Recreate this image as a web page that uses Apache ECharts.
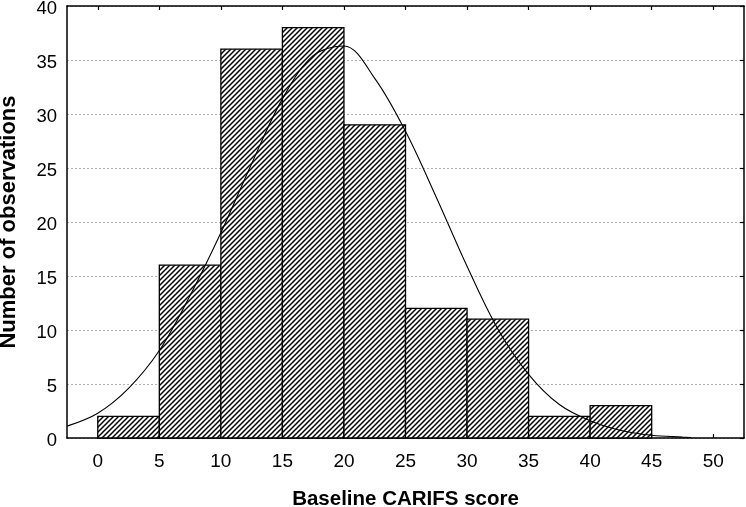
<!DOCTYPE html>
<html>
<head>
<meta charset="utf-8">
<script src="https://cdn.jsdelivr.net/npm/echarts@6/dist/echarts.min.js"></script>
<style>
html,body{margin:0;padding:0;background:#fff;}
#chart{width:746px;height:507px;}
</style>
</head>
<body>
<div id="chart"></div>
<script>
// ---- data ----
var binStarts = [0, 5, 10, 15, 20, 25, 30, 35, 40];
var binEnds   = [5, 10, 15, 20, 25, 30, 35, 40, 45];
var binCounts = [2, 16, 36, 38, 29, 12, 11, 2, 3];

var curveX = [-2.5, 0, 2.5, 5, 7.5, 10, 12.5, 15, 17.5, 20, 22.5, 25, 27.5, 30, 32.5, 35, 37.5, 40, 42.5, 45, 47.5, 48.2];
var curveY = [1.1, 2.3, 4.6, 8.1, 13.2, 19.0, 25.4, 31.4, 35.4, 36.3, 33.3, 28.4, 22.3, 15.9, 10.1, 5.9, 3.1, 1.6, 0.7, 0.25, 0.08, 0.04];

var xTickLabels = [0, 5, 10, 15, 20, 25, 30, 35, 40, 45, 50];
var yTickLabels = [0, 5, 10, 15, 20, 25, 30, 35, 40];

var xTitle = 'Baseline CARIFS score';
var yTitle = 'Number of observations';

// ---- hatch pattern ----
var tile = document.createElement('canvas');
tile.width = 5; tile.height = 5;
var c = tile.getContext('2d');
c.fillStyle = '#fff'; c.fillRect(0, 0, 5, 5);
c.strokeStyle = '#000'; c.lineWidth = 1.5;
c.beginPath();
c.moveTo(-1, 1); c.lineTo(1, -1);
c.moveTo(0, 5); c.lineTo(5, 0);
c.moveTo(4, 6); c.lineTo(6, 4);
c.stroke();
var hatch = { image: tile, repeat: 'repeat' };

var histData = binStarts.map(function (s, i) { return [s, binEnds[i], binCounts[i]]; });
var curveData = curveX.map(function (x, i) { return [x, curveY[i]]; });

var chart = echarts.init(document.getElementById('chart'), null, { renderer: 'canvas' });
var font = 'Liberation Sans, Arial, Helvetica, sans-serif';

var option = {
  animation: false,
  backgroundColor: '#fff',
  grid: { left: 67, top: 6, right: 2, bottom: 69, containLabel: false, outerBoundsMode: 'none' },
  xAxis: [{
    type: 'value', min: -2.5, max: 52.5, position: 'bottom',
    name: xTitle, nameLocation: 'middle', nameGap: 51,
    nameTextStyle: { fontFamily: font, fontSize: 20.5, fontWeight: 'bold', color: '#000' },
    axisLine: { show: true, onZero: false, lineStyle: { color: '#000', width: 1.5 } },
    axisTick: { show: true, inside: true, length: 4, customValues: xTickLabels, lineStyle: { color: '#000', width: 1.2 } },
    axisLabel: { show: true, customValues: xTickLabels, margin: 14, fontFamily: font, fontSize: 19, color: '#000' },
    splitLine: { show: false }
  }, {
    type: 'value', min: -2.5, max: 52.5, position: 'top',
    axisLine: { show: true, onZero: false, lineStyle: { color: '#000', width: 1.5 } },
    axisTick: { show: true, inside: true, length: 4, customValues: xTickLabels, lineStyle: { color: '#000', width: 1.2 } },
    axisLabel: { show: false },
    splitLine: { show: false }
  }],
  yAxis: [{
    type: 'value', min: 0, max: 40, interval: 5, position: 'left',
    name: yTitle, nameLocation: 'middle', nameGap: 47, nameRotate: 90,
    nameTextStyle: { fontFamily: font, fontSize: 22, fontWeight: 'bold', color: '#000' },
    axisLine: { show: true, onZero: false, lineStyle: { color: '#000', width: 1.5 } },
    axisTick: { show: false },
    axisLabel: {
      show: true, margin: 10, color: '#000',
      formatter: '{a|{value}}',
      rich: { a: { fontFamily: font, fontSize: 18.5, color: '#000', padding: [5, 0, 0, 0] } }
    },
    splitLine: { show: true, lineStyle: { color: '#b0b0b0', type: [2, 2], width: 1 } }
  }, {
    type: 'value', min: 0, max: 40, interval: 5, position: 'right',
    axisLine: { show: true, onZero: false, lineStyle: { color: '#000', width: 1.5 } },
    axisTick: { show: true, inside: true, length: 4, lineStyle: { color: '#000', width: 1.2 } },
    axisLabel: { show: false },
    splitLine: { show: false }
  }],
  series: [{
    type: 'custom',
    xAxisIndex: 0, yAxisIndex: 0,
    z: 2,
    data: histData,
    encode: { x: [0, 1], y: 2 },
    renderItem: function (params, api) {
      var p0 = api.coord([api.value(0), api.value(2)]);
      var p1 = api.coord([api.value(1), 0]);
      return {
        type: 'rect',
        shape: { x: p0[0], y: p0[1], width: p1[0] - p0[0], height: p1[1] - p0[1] },
        style: { fill: hatch, stroke: '#000', lineWidth: 1.3 }
      };
    }
  }, {
    type: 'line',
    xAxisIndex: 0, yAxisIndex: 0,
    z: 3,
    data: curveData,
    smooth: 0.35,
    showSymbol: false,
    lineStyle: { color: '#000', width: 1.1 }
  }]
};
chart.setOption(option);
</script>
</body>
</html>
